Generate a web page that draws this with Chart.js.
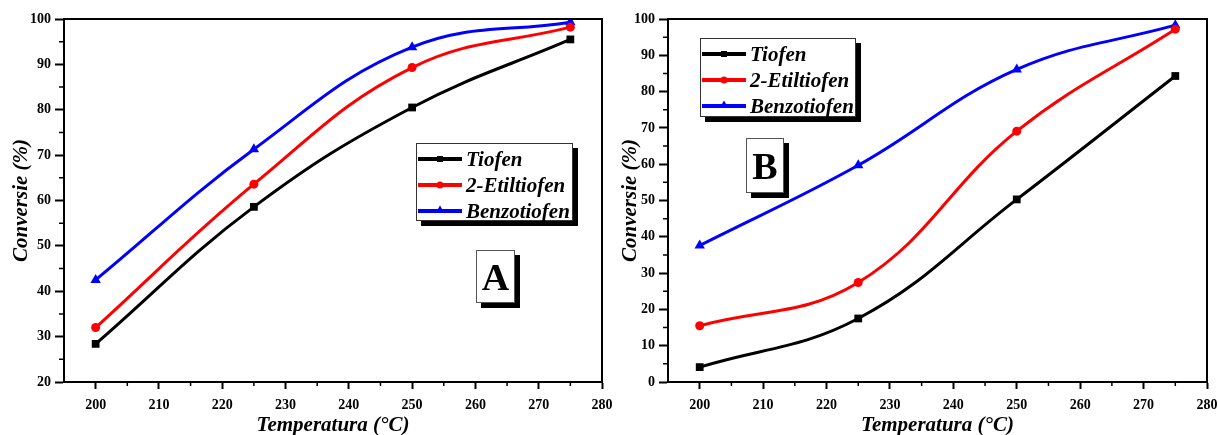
<!DOCTYPE html>
<html lang="nl">
<head>
  <meta charset="UTF-8" />
  <title>Conversie vs temperatuur</title>
  <script src="https://cdn.jsdelivr.net/npm/chart.js"></script>
  <style>
    body {
      margin: 0;
      width: 1218px;
      height: 435px;
      background: #fff;
      position: relative;
      overflow: hidden;
      font-family: 'Liberation Serif', 'Times New Roman', serif;
    }
    .panel { position: absolute; top: 0; height: 435px; }
    #panelA { left: 0; width: 620px; }
    #panelB { left: 609px; width: 609px; }
    .legend {
      position: absolute;
      box-sizing: border-box;
      background: #fff;
      border: 1px solid #333;
      box-shadow: 5px 5px 0 #000;
      padding-top: 2px;
    }
    .row {
      display: flex;
      align-items: center;
      height: 26px;
      font-weight: bold;
      font-style: italic;
      font-size: 21px;
      color: #000;
    }
    .sample {
      position: relative;
      width: 44px;
      height: 4px;
      margin: 0 4px 0 1px;
    }
    .mark { position: absolute; left: 50%; top: 50%; transform: translate(-50%, -50%); }
    .tag {
      position: absolute;
      box-sizing: border-box;
      background: #fff;
      border: 1px solid #555;
      box-shadow: 5px 5px 0 #000;
      font-weight: bold;
      font-size: 38px;
      text-align: center;
      color: #000;
    }
  </style>
</head>
<body>

  <div class="panel" id="panelA"><canvas id="chartA"></canvas></div>
  <div class="panel" id="panelB"><canvas id="chartB"></canvas></div>

  <div class="legend" id="legendA" style="left:416px; top:143px; width:157px; height:78px;"></div>
  <div class="legend" id="legendB" style="left:700px; top:38px; width:156px; height:79px;"></div>
  <div class="tag" style="left:476px; top:250px; width:39px; height:53px; line-height:53px;">A</div>
  <div class="tag" style="left:746px; top:138px; width:38px; height:55px; line-height:55px;">B</div>

  <script>
    const temperatures = [200, 225, 250, 275];
    const seriesNames = ['Tiofen', '2-Etiltiofen', 'Benzotiofen'];
    const seriesColors = ['#000000', '#ff0000', '#0000ff'];
    const seriesMarkers = ['rect', 'circle', 'triangle'];

    // panel A
    const tiofenA = [28.4, 58.6, 80.5, 95.5];
    const etiltiofenA = [32.0, 63.6, 89.3, 98.2];
    const benzotiofenA = [42.5, 71.3, 93.8, 99.3];

    // panel B
    const tiofenB = [4.1, 17.5, 50.3, 84.3];
    const etiltiofenB = [15.5, 27.4, 69.1, 97.2];
    const benzotiofenB = [37.6, 59.7, 86.1, 98.3];

    const fontFamily = "'Liberation Serif', 'Times New Roman', serif";

    function toPoints(values) {
      return temperatures.map((t, i) => ({ x: t, y: values[i] }));
    }

    function makeDatasets(lists) {
      return lists.map((vals, i) => ({
        label: seriesNames[i],
        data: toPoints(vals),
        borderColor: seriesColors[i],
        backgroundColor: seriesColors[i],
        borderWidth: 3,
        pointStyle: seriesMarkers[i],
        pointRadius: [5.5, 4.5, 6][i],
        pointBorderWidth: 0,
        tension: 0.4,
        fill: false
      }));
    }

    // box round the plot plus the small in-between ticks
    const framePlugin = {
      id: 'frame',
      afterDraw(chart) {
        const { ctx, chartArea: a, scales: { x, y } } = chart;
        ctx.save();
        ctx.strokeStyle = '#000';
        ctx.lineWidth = 2;
        ctx.strokeRect(a.left, a.top, a.right - a.left, a.bottom - a.top);
        ctx.lineWidth = 1.5;
        ctx.beginPath();
        for (let v = 205; v < x.max; v += 10) {
          const px = x.getPixelForValue(v);
          ctx.moveTo(px, a.bottom);
          ctx.lineTo(px, a.bottom + 4);
        }
        for (let v = y.min + 5; v < y.max; v += 10) {
          const py = y.getPixelForValue(v);
          ctx.moveTo(a.left, py);
          ctx.lineTo(a.left - 5, py);
        }
        ctx.stroke();
        ctx.restore();
      }
    };

    function makeChart(id, lists, yMin, yAxisWidth, rightPad) {
      return new Chart(document.getElementById(id), {
        type: 'line',
        data: { datasets: makeDatasets(lists) },
        options: {
          responsive: true,
          maintainAspectRatio: false,
          animation: false,
          layout: { padding: { top: 19, right: rightPad, left: 0, bottom: 0 } },
          plugins: { legend: { display: false }, tooltip: { enabled: false } },
          scales: {
            x: {
              type: 'linear',
              min: 195,
              max: 280,
              ticks: {
                stepSize: 10,
                includeBounds: false,
                color: '#000',
                padding: 8,
                font: { family: fontFamily, size: 14, weight: 'bold' }
              },
              grid: { drawOnChartArea: false, color: '#000', tickLength: 7, tickWidth: 2 },
              border: { color: '#000', width: 2 },
              title: {
                display: true,
                text: 'Temperatura (°C)',
                color: '#000',
                padding: { top: 0, bottom: -1 },
                font: { family: fontFamily, size: 21, weight: 'bold', style: 'italic', lineHeight: 1 }
              },
              afterFit: s => { s.height = 53; s.paddingLeft = 0; s.paddingRight = 0; }
            },
            y: {
              min: yMin,
              max: 100,
              ticks: {
                stepSize: 10,
                color: '#000',
                padding: 4,
                font: { family: fontFamily, size: 14, weight: 'bold' }
              },
              grid: { drawOnChartArea: false, color: '#000', tickLength: 9, tickWidth: 2 },
              border: { color: '#000', width: 2 },
              title: {
                display: true,
                text: 'Conversie (%)',
                color: '#000',
                padding: { top: 11, bottom: 0 },
                font: { family: fontFamily, size: 21, weight: 'bold', style: 'italic', lineHeight: 1 }
              },
              afterFit: s => { s.width = yAxisWidth; s.paddingTop = 0; s.paddingBottom = 0; }
            }
          }
        },
        plugins: [framePlugin]
      });
    }

    makeChart('chartA', [tiofenA, etiltiofenA, benzotiofenA], 20, 64, 18);
    makeChart('chartB', [tiofenB, etiltiofenB, benzotiofenB], 0, 59, 11);

    function markerHtml(kind, color) {
      if (kind === 'rect') return `<span class="mark" style="width:6px;height:6px;background:${color}"></span>`;
      if (kind === 'circle') return `<span class="mark" style="width:7px;height:7px;border-radius:50%;background:${color}"></span>`;
      return `<span class="mark" style="width:0;height:0;border-left:4px solid transparent;border-right:4px solid transparent;border-bottom:7px solid ${color};margin-top:-2px"></span>`;
    }

    function buildLegend(id) {
      const box = document.getElementById(id);
      seriesNames.forEach((name, i) => {
        const row = document.createElement('div');
        row.className = 'row';
        row.innerHTML = `<span class="sample" style="background:${seriesColors[i]}">${markerHtml(seriesMarkers[i], seriesColors[i])}</span>${name}`;
        box.appendChild(row);
      });
    }

    buildLegend('legendA');
    buildLegend('legendB');
  </script>
</body>
</html>
